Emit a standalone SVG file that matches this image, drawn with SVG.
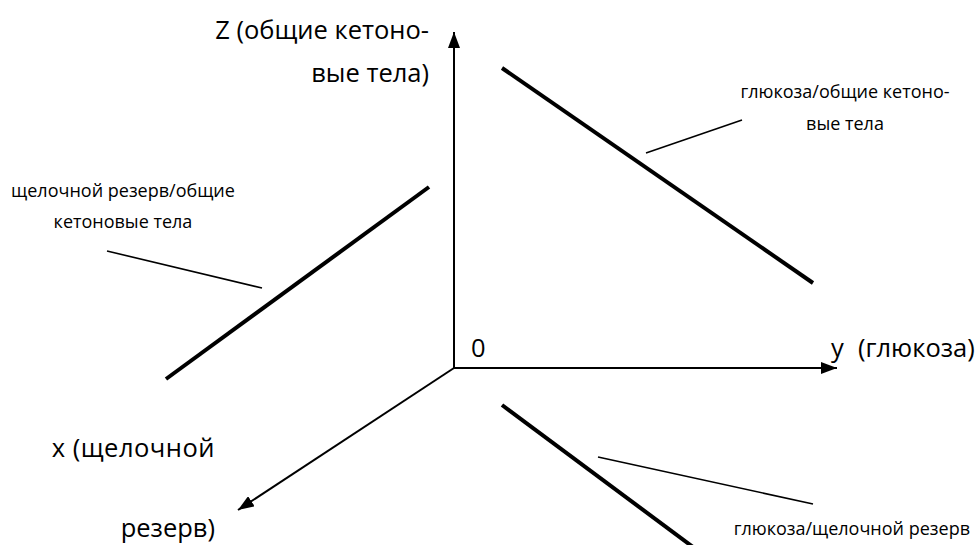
<svg xmlns="http://www.w3.org/2000/svg" width="980" height="545" viewBox="0 0 980 545">
<style>
.ax{stroke:#000;stroke-width:2;fill:none}
.thick{stroke:#000;stroke-width:4;fill:none}
.lead{stroke:#000;stroke-width:1.6;fill:none}
.big{font-family:"Open Sans","Liberation Sans",sans-serif;font-size:25.5px;fill:#000}
.small{font-family:"Open Sans","Liberation Sans",sans-serif;font-size:18px;fill:#000}
</style>
<defs>
<marker id="arr" viewBox="0 0 16 12" refX="16" refY="6" markerWidth="16" markerHeight="12" markerUnits="userSpaceOnUse" orient="auto">
<path d="M0,0 L16,6 L0,12 Z" fill="#000"/>
</marker>
</defs>
<rect width="980" height="545" fill="#fff"/>
<g id="connectors">
<line class="ax" x1="454" y1="368" x2="454" y2="32" marker-end="url(#arr)"/>
<line class="ax" x1="454" y1="368" x2="837" y2="368" marker-end="url(#arr)"/>
<line class="ax" x1="454" y1="368" x2="238" y2="510" marker-end="url(#arr)"/>
<line class="thick" x1="166" y1="379" x2="429" y2="187"/>
<line class="thick" x1="502" y1="68" x2="813" y2="283"/>
<line class="thick" x1="502" y1="405" x2="697" y2="550"/>
<line class="lead" x1="107" y1="251" x2="262" y2="288"/>
<line class="lead" x1="646" y1="153" x2="742" y2="120"/>
<line class="lead" x1="598" y1="457" x2="813" y2="504"/>
</g>
<g id="axis-z"><text class="big" x="429" y="39" text-anchor="end">Z (общие кетоно-</text><text class="big" x="429" y="82" text-anchor="end">вые тела)</text></g>
<g id="axis-y"><text class="big" y="357"><tspan x="831">y</tspan><tspan x="858">(глюкоза)</tspan></text></g>
<g id="axis-x"><text class="big" x="215" y="457" text-anchor="end" letter-spacing="0.5">x (щелочной</text><text class="big" x="215" y="537" text-anchor="end">резерв)</text></g>
<g id="origin"><text class="big" x="471" y="357">0</text></g>
<g id="label-left"><text class="small" x="123" y="197" text-anchor="middle">щелочной резерв/общие</text><text class="small" x="123" y="228" text-anchor="middle">кетоновые тела</text></g>
<g id="label-top-right"><text class="small" x="845" y="98" text-anchor="middle">глюкоза/общие кетоно-</text><text class="small" x="845" y="130" text-anchor="middle">вые тела</text></g>
<g id="label-bottom"><text class="small" x="970" y="535" text-anchor="end">глюкоза/щелочной резерв</text></g>
</svg>
